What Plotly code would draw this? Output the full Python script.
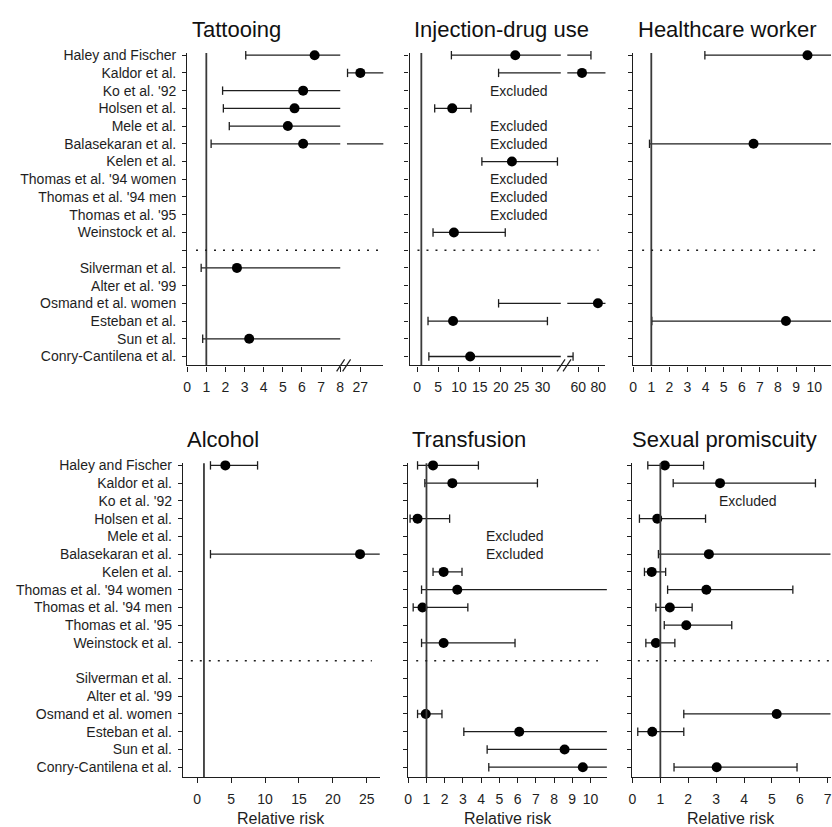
import plotly.graph_objects as go

N = None
STUDIES = ["Haley and Fischer", "Kaldor et al.", "Ko et al. '92", "Holsen et al.", "Mele et al.",
           "Balasekaran et al.", "Kelen et al.", "Thomas et al. '94 women", "Thomas et al. '94 men",
           "Thomas et al. '95", "Weinstock et al.", "Silverman et al.", "Alter et al. '99",
           "Osmand et al. women", "Esteban et al.", "Sun et al.", "Conry-Cantilena et al."]
GAP_ROW = 11
ROWS = [i if i < GAP_ROW else i + 1 for i in range(len(STUDIES))]

# ---- Tattooing
TAT_RR = [6.66, 27.0, 6.06, 5.61, 5.26, 6.06, N, N, N, N, N, 2.60, N, N, N, 3.24, N]
TAT_LO = [3.06, 20.3, 1.85, 1.89, 2.20, 1.25, N, N, N, N, N, 0.73, N, N, N, 0.81, N]
TAT_HI = [12.0, 45.0, 12.0, 12.0, 12.0, 45.0, N, N, N, N, N, 12.0, N, N, N, 12.0, N]
TAT_TICKS = [0, 1, 2, 3, 4, 5, 6, 7, 8, 27]
TAT_EXCL = []

# ---- Injection-drug use
INJ_RR = [23.5, 63.7, N, 8.4, N, N, 22.7, N, N, N, 8.8, N, N, 79.7, 8.6, N, 12.7]
INJ_LO = [8.2, 19.5, N, 4.2, N, N, 15.5, N, N, N, 3.8, N, N, 19.5, 2.6, N, 2.8]
INJ_HI = [72.7, 95.0, N, 12.9, N, N, 33.6, N, N, N, 21.1, N, N, 95.0, 31.2, N, 54.7]
INJ_TICKS = [0, 5, 10, 15, 20, 25, 30, 60, 80]
INJ_EXCL = ["Ko et al. '92", "Mele et al.", "Balasekaran et al.", "Thomas et al. '94 women",
            "Thomas et al. '94 men", "Thomas et al. '95"]

# ---- Healthcare worker
HCW_RR = [9.63, N, N, N, N, 6.65, N, N, N, N, N, N, N, N, 8.44, N, N]
HCW_LO = [3.96, N, N, N, N, 0.90, N, N, N, N, N, N, N, N, 1.03, N, N]
HCW_HI = [15.0, N, N, N, N, 15.0, N, N, N, N, N, N, N, N, 15.0, N, N]
HCW_TICKS = [0, 1, 2, 3, 4, 5, 6, 7, 8, 9, 10]
HCW_EXCL = []

# ---- Alcohol
ALC_RR = [4.15, N, N, N, N, 24.0, N, N, N, N, N, N, N, N, N, N, N]
ALC_LO = [1.96, N, N, N, N, 1.96, N, N, N, N, N, N, N, N, N, N, N]
ALC_HI = [8.9, N, N, N, N, 32.0, N, N, N, N, N, N, N, N, N, N, N]
ALC_TICKS = [0, 5, 10, 15, 20, 25]
ALC_EXCL = []

# ---- Transfusion
TRA_RR = [1.36, 2.42, N, 0.51, N, N, 1.94, 2.69, 0.78, N, 1.94, N, N, 0.96, 6.09, 8.58, 9.58]
TRA_LO = [0.51, 0.91, N, 0.10, N, N, 1.36, 0.73, 0.27, N, 0.73, N, N, 0.51, 3.05, 4.33, 4.42]
TRA_HI = [3.85, 7.09, N, 2.27, N, N, 2.95, 14.0, 3.27, N, 5.86, N, N, 1.85, 14.0, 14.0, 14.0]
TRA_TICKS = [0, 1, 2, 3, 4, 5, 6, 7, 8, 9, 10]
TRA_EXCL = ["Mele et al.", "Balasekaran et al."]

# ---- Sexual promiscuity
SEX_RR = [1.16, 3.14, N, 0.89, N, 2.74, 0.69, 2.65, 1.34, 1.93, 0.84, N, N, 5.17, 0.71, N, 3.02]
SEX_LO = [0.55, 1.46, N, 0.25, N, 0.93, 0.43, 1.26, 0.84, 1.14, 0.48, N, N, 1.84, 0.19, N, 1.49]
SEX_HI = [2.55, 6.56, N, 2.62, N, 9.00, 1.19, 5.75, 2.14, 3.56, 1.52, N, N, 9.00, 1.84, N, 5.90]
SEX_TICKS = [0, 1, 2, 3, 4, 5, 6, 7]
SEX_EXCL = ["Ko et al. '92"]

W, H = 832, 827
FONT = "Liberation Sans, Arial, Helvetica, sans-serif"
INK = "#1e1e1e"

# layout configuration (pixel geometry of each panel; brk = broken-axis mapping a, b, display_at_b, scale)
PANELS = [
    dict(title="Tattooing", rr=TAT_RR, lo=TAT_LO, hi=TAT_HI, ticks=TAT_TICKS, excl=TAT_EXCL,
         brk=(8.0, 20.0, 8.35, 0.1), xr=(0.0, 10.25), px=(184.3, 381.6), row=0, ylab=True,
         tx=187, dot=(0.045, 0.995), ex=None),
    dict(title="Injection-drug use", rr=INJ_RR, lo=INJ_LO, hi=INJ_HI, ticks=INJ_TICKS, excl=INJ_EXCL,
         brk=(34.4, 48.9, 35.96, 0.238), xr=(-1.8, 45.1), px=(408.1, 605.1), row=0, ylab=False,
         tx=410, dot=(0.04, 0.965), ex=24.4),
    dict(title="Healthcare worker", rr=HCW_RR, lo=HCW_LO, hi=HCW_HI, ticks=HCW_TICKS, excl=HCW_EXCL,
         brk=None, xr=(0.0, 10.93), px=(633.0, 832.0), row=0, ylab=False,
         tx=636, dot=(0.045, 0.95), ex=None),
    dict(title="Alcohol", rr=ALC_RR, lo=ALC_LO, hi=ALC_HI, ticks=ALC_TICKS, excl=ALC_EXCL,
         brk=None, xr=(-2.1, 26.9), px=(180.0, 378.0), row=1, ylab=True,
         tx=182, dot=(0.04, 0.96), ex=None),
    dict(title="Transfusion", rr=TRA_RR, lo=TRA_LO, hi=TRA_HI, ticks=TRA_TICKS, excl=TRA_EXCL,
         brk=None, xr=(0.0, 10.9), px=(406.7, 606.5), row=1, ylab=False,
         tx=408, dot=(0.04, 0.955), ex=5.86),
    dict(title="Sexual promiscuity", rr=SEX_RR, lo=SEX_LO, hi=SEX_HI, ticks=SEX_TICKS, excl=SEX_EXCL,
         brk=None, xr=(-0.02, 7.1), px=(631.7, 831.5), row=1, ylab=False,
         tx=630, dot=(0.03, 0.995), ex=4.13),
]
ROW_GEOM = [dict(yr=(17.5, -0.12), py=(47.4, 362.0)),
            dict(yr=(17.55, -0.12), py=(460.6, 776.6))]


def fwd(v, brk):
    if brk is None:
        return v
    a, b, db, s = brk
    if v <= a:
        return v
    if v >= b:
        return db + (v - b) * s
    return None


def segments(lo, hi, brk):
    if brk is None:
        return [(lo, hi)]
    a, b, db, s = brk
    segs = []
    if lo < a:
        segs.append((lo, min(hi, a)))
    if hi > b:
        segs.append((max(lo, b), hi))
    return segs


fig = go.Figure()
annotations = []
shapes = []

for k, p in enumerate(PANELS):
    idx = "" if k == 0 else str(k + 1)
    xref, yref = "x" + idx, "y" + idx
    brk = p["brk"]
    x0r, x1r = p["xr"]
    lx, ly, cx, cy, px_, py_ = [], [], [], [], [], []
    for i, row in enumerate(ROWS):
        rr, lo, hi = p["rr"][i], p["lo"][i], p["hi"][i]
        if rr is None:
            continue
        for s0, s1 in segments(lo, hi, brk):
            lx += [fwd(s0, brk), fwd(s1, brk), None]
            ly += [row, row, None]
        for e in (lo, hi):
            d = fwd(e, brk)
            if d is not None and x0r <= d <= x1r:
                cx.append(d)
                cy.append(row)
        px_.append(fwd(rr, brk))
        py_.append(row)

    fig.add_trace(go.Scatter(x=lx, y=ly, mode="lines", xaxis=xref, yaxis=yref,
                             line=dict(color=INK, width=1.3), hoverinfo="skip", showlegend=False))
    fig.add_trace(go.Scatter(x=cx, y=cy, mode="markers", xaxis=xref, yaxis=yref, cliponaxis=False,
                             marker=dict(symbol="line-ns-open", size=6, color=INK,
                                         line=dict(width=1.3, color=INK)),
                             hoverinfo="skip", showlegend=False))
    fig.add_trace(go.Scatter(x=px_, y=py_, mode="markers", xaxis=xref, yaxis=yref, cliponaxis=False,
                             marker=dict(symbol="circle", size=10, color="black"),
                             showlegend=False))

    g = ROW_GEOM[p["row"]]
    xdom = [p["px"][0] / W, min(p["px"][1] / W, 1.0)]
    ydom = [1 - g["py"][1] / H, 1 - g["py"][0] / H]
    tickvals = [fwd(t, brk) for t in p["ticks"]]
    fig.layout["xaxis" + idx] = dict(
        domain=xdom, range=list(p["xr"]), anchor=yref, tickmode="array", tickvals=tickvals,
        ticktext=[str(t) for t in p["ticks"]], ticks="outside", ticklen=5, tickwidth=1.2,
        tickcolor=INK, showline=True, linecolor=INK, linewidth=1.3, showgrid=False, zeroline=False,
        tickfont=dict(size=14, color=INK, family=FONT), ticklabelstandoff=4, fixedrange=True)
    ytext = []
    for r in range(len(STUDIES) + 1):
        if p["ylab"] and r in ROWS:
            ytext.append(STUDIES[ROWS.index(r)])
        else:
            ytext.append("")
    fig.layout["yaxis" + idx] = dict(
        domain=ydom, range=list(g["yr"]), anchor=xref, tickmode="array",
        tickvals=list(range(len(STUDIES) + 1)), ticktext=ytext, ticks="outside", ticklen=4,
        tickwidth=1.2, tickcolor=INK, showline=True, linecolor=INK, linewidth=1.3, showgrid=False,
        zeroline=False, showticklabels=p["ylab"], tickfont=dict(size=14, color=INK, family=FONT),
        ticklabelstandoff=3, fixedrange=True)

    # reference line at RR = 1
    shapes.append(dict(type="line", xref=xref, yref=yref + " domain", x0=fwd(1, brk), x1=fwd(1, brk),
                       y0=0, y1=1, line=dict(color="#3a3a3a", width=1.8)))
    # dotted separator
    shapes.append(dict(type="line", xref=xref + " domain", yref=yref, x0=p["dot"][0], x1=p["dot"][1],
                       y0=GAP_ROW, y1=GAP_ROW, line=dict(color=INK, width=1.5, dash="2px,7px")))
    # axis break marks
    if brk is not None:
        xb = (brk[0] + brk[2]) / 2.0
        for off in (-3, 3):
            shapes.append(dict(type="line", xref=xref, yref=yref + " domain", xsizemode="pixel",
                               ysizemode="pixel", xanchor=xb, yanchor=0, x0=off - 4, x1=off + 4,
                               y0=-6, y1=6, line=dict(color=INK, width=1.2)))
    # excluded labels
    for name in p["excl"]:
        annotations.append(dict(xref=xref, yref=yref, x=p["ex"], y=ROWS[STUDIES.index(name)],
                                text="Excluded", showarrow=False, xanchor="center", yanchor="middle",
                                font=dict(size=14, color=INK, family=FONT)))
    # panel title
    ty = 24 if p["row"] == 0 else 437
    annotations.append(dict(xref="paper", yref="paper", x=p["tx"] / W, y=1 - ty / H, text=p["title"],
                            showarrow=False, xanchor="left", yanchor="middle",
                            font=dict(size=22, color="#111", family=FONT)))
    if p["row"] == 1:
        annotations.append(dict(xref="paper", yref="paper", x=(xdom[0] + xdom[1]) / 2, y=1 - 818 / H,
                                text="Relative risk", showarrow=False, xanchor="center",
                                yanchor="middle", font=dict(size=16, color=INK, family=FONT)))

fig.update_layout(width=W, height=H, margin=dict(l=0, r=0, t=0, b=0), autosize=False,
                  paper_bgcolor="white", plot_bgcolor="white", showlegend=False,
                  annotations=annotations, shapes=shapes, font=dict(family=FONT, color=INK))

fig.write_html("out.html", config={"displayModeBar": False},
               post_script="document.body.style.margin='0';document.body.style.overflow='hidden';")
